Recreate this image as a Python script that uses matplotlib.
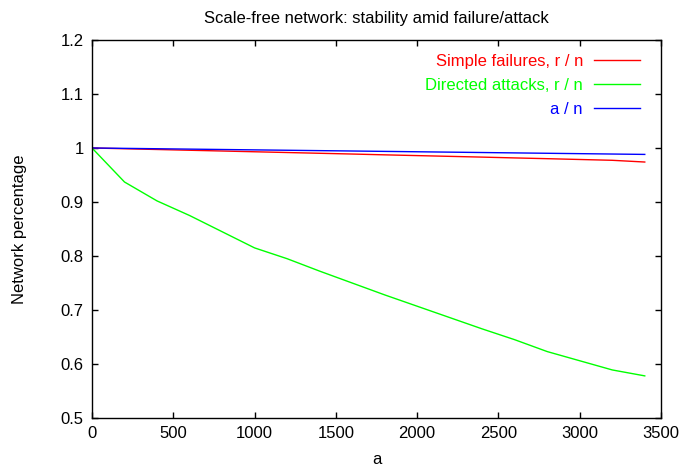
import numpy as np
import matplotlib
matplotlib.use('Agg')
import matplotlib.pyplot as plt
from matplotlib.ticker import FuncFormatter

plt.rcParams['font.family'] = ['Liberation Sans', 'DejaVu Sans']

# removed nodes a
a_vals = [0, 200, 400, 600, 800, 1000, 1200, 1400, 1600, 1800, 2000,
          2200, 2400, 2600, 2800, 3000, 3200, 3400]
# simple failures, r / n
failures = [1.0, 0.9986, 0.9972, 0.9958, 0.9944, 0.993, 0.9916, 0.9902, 0.9888,
            0.9873, 0.9859, 0.9845, 0.9831, 0.9816, 0.9802, 0.9787, 0.9772, 0.9740]
# directed attacks, r / n
attacks = [1.0, 0.937, 0.902, 0.875, 0.845, 0.815, 0.795, 0.772, 0.750,
           0.728, 0.707, 0.686, 0.665, 0.645, 0.623, 0.606, 0.589, 0.578]
# a / n
removed = [1.0, 0.9993, 0.9986, 0.9979, 0.9972, 0.9965, 0.9958, 0.9951, 0.9944,
           0.9937, 0.9930, 0.9923, 0.9916, 0.9909, 0.9902, 0.9895, 0.9888, 0.9881]

fig = plt.figure(figsize=(6.85, 4.72), dpi=100)
ax = fig.add_axes([0.1343, 0.1144, 0.8307, 0.8009])

ax.plot(a_vals, failures, color='#ff0000', lw=1, label='Simple failures, r / n')
ax.plot(a_vals, attacks, color='#00ff00', lw=1, label='Directed attacks, r / n')
ax.plot(a_vals, removed, color='#0000ff', lw=1, label='a / n')

ax.set_xlim(0, 3500)
ax.set_ylim(0.5, 1.2)
ax.set_xticks(np.arange(0, 3501, 500))
ax.set_yticks(np.arange(0.5, 1.21, 0.1))
ax.yaxis.set_major_formatter(FuncFormatter(lambda v, p: '%g' % round(v, 2)))
ax.tick_params(direction='in', top=True, right=True, length=4.5, width=1,
               labelsize=12, pad=6)
for s in ax.spines.values():
    s.set_linewidth(1)

ax.set_title('Scale-free network: stability amid failure/attack', fontsize=12, pad=12)
ax.set_xlabel('a', fontsize=12, labelpad=8)
ax.set_ylabel('Network percentage', fontsize=12, labelpad=24)

leg = ax.legend(loc='upper right', bbox_to_anchor=(0.993, 1.008), frameon=False,
                markerfirst=False, fontsize=12, handlelength=2.8,
                handletextpad=0.65, labelspacing=0.56, borderaxespad=0.6)
for txt, ln in zip(leg.get_texts(), leg.get_lines()):
    txt.set_color(ln.get_color())

fig.savefig('out.png', dpi=100)
